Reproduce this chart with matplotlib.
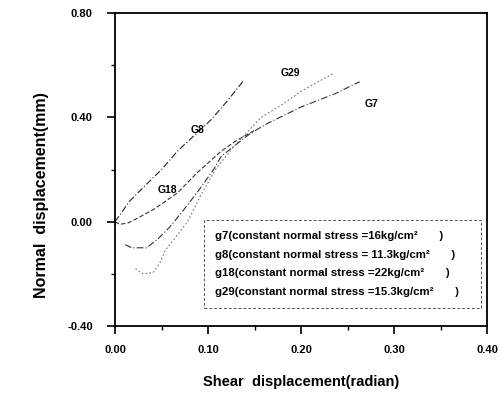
import matplotlib
matplotlib.use("Agg")
import matplotlib.pyplot as plt
from matplotlib.patches import Rectangle
from matplotlib.ticker import MultipleLocator

plt.rcParams["font.family"] = ["Liberation Sans", "DejaVu Sans"]

# ---------------------------------------------------------------------------
# Data
# ---------------------------------------------------------------------------
g8_x = [0.0, 0.008, 0.016, 0.03, 0.05, 0.067, 0.085, 0.103, 0.12, 0.138]
g8_y = [0.0, 0.04, 0.08, 0.13, 0.20, 0.27, 0.33, 0.39, 0.46, 0.54]

g18_x = [0.0, 0.005, 0.014, 0.025, 0.041, 0.055, 0.067, 0.089, 0.114, 0.13, 0.15]
g18_y = [0.0, -0.01, -0.005, 0.015, 0.046, 0.08, 0.11, 0.19, 0.27, 0.31, 0.35]

g7_x = [0.011, 0.018, 0.024, 0.034, 0.045, 0.059, 0.074, 0.09, 0.106, 0.114,
        0.128, 0.146, 0.164, 0.2, 0.236, 0.263]
g7_y = [-0.088, -0.10, -0.10, -0.10, -0.07, -0.02, 0.046, 0.12, 0.20, 0.25,
        0.29, 0.34, 0.377, 0.44, 0.49, 0.537]

g29_x = [0.022, 0.03, 0.041, 0.048, 0.054, 0.065, 0.078, 0.092, 0.108, 0.128,
         0.157, 0.18, 0.2, 0.236]
g29_y = [-0.18, -0.20, -0.195, -0.16, -0.11, -0.06, 0.0, 0.10, 0.20, 0.29,
         0.40, 0.45, 0.50, 0.571]

curve_labels = ["G8", "G29", "G7", "G18"]
label_x = [0.089, 0.189, 0.276, 0.056]
label_y = [0.35, 0.571, 0.453, 0.122]

legend_lines = [
    "g7(constant normal stress =16kg/cm\u00b2       )",
    "g8(constant normal stress = 11.3kg/cm\u00b2       )",
    "g18(constant normal stress =22kg/cm\u00b2       )",
    "g29(constant normal stress =15.3kg/cm\u00b2       )",
]

# ---------------------------------------------------------------------------
fig = plt.figure(figsize=(5.0, 3.99), dpi=100)
ax = fig.add_axes([0.23, 0.183, 0.744, 0.784])

ax.plot(g8_x, g8_y, color="#222222", lw=0.8, ls=(0, (6, 2, 1, 2)))
ax.plot(g18_x, g18_y, color="#333333", lw=0.8, ls=(0, (4, 2)))
ax.plot(g7_x, g7_y, color="#333333", lw=0.8, ls=(0, (6, 2, 1, 2)))
ax.plot(g29_x, g29_y, color="#777777", lw=0.8, ls=(0, (1.5, 2)))

for lab, lx, ly in zip(curve_labels, label_x, label_y):
    ax.text(lx, ly, lab, fontsize=7.5, fontweight="bold", ha="center", va="center")

# legend-like box with text only
ax.add_patch(Rectangle((0.239, 0.058), 0.745, 0.281, transform=ax.transAxes,
                       fill=False, ec="#555555", lw=0.7, ls=(0, (3, 2))))
ys = [0.287, 0.226, 0.169, 0.109]
for txt, yy in zip(legend_lines, ys):
    ax.text(0.27, yy, txt, transform=ax.transAxes, fontsize=8.2,
            fontweight="bold", va="center")

ax.set_xlim(0.0, 0.40)
ax.set_ylim(-0.40, 0.80)
ax.xaxis.set_minor_locator(MultipleLocator(0.05))
ax.yaxis.set_minor_locator(MultipleLocator(0.20))
ax.tick_params(which="major", direction="out", length=6, width=1.2,
               labelsize=8)
ax.tick_params(axis="x", which="major", pad=8)
ax.tick_params(axis="y", which="major", pad=10)
ax.tick_params(which="minor", direction="out", length=3, width=1.0)
ax.set_xticks([0.0, 0.1, 0.2, 0.3, 0.4])
ax.set_xticklabels(["0.00", "0.10", "0.20", "0.30", "0.40"], fontweight="bold")
ax.set_yticks([-0.4, 0.0, 0.4, 0.8])
ax.set_yticklabels(["-0.40", "0.00", "0.40", "0.80"], fontweight="bold")
for s in ax.spines.values():
    s.set_linewidth(1.3)

ax.set_xlabel("Shear  displacement(radian)", fontsize=10.5, fontweight="bold",
              labelpad=14)
ax.set_ylabel("Normal  displacement(mm)", fontsize=11.5, fontweight="bold")
ax.yaxis.set_label_coords(-0.178, 0.42)

fig.savefig("out.png", dpi=100)
